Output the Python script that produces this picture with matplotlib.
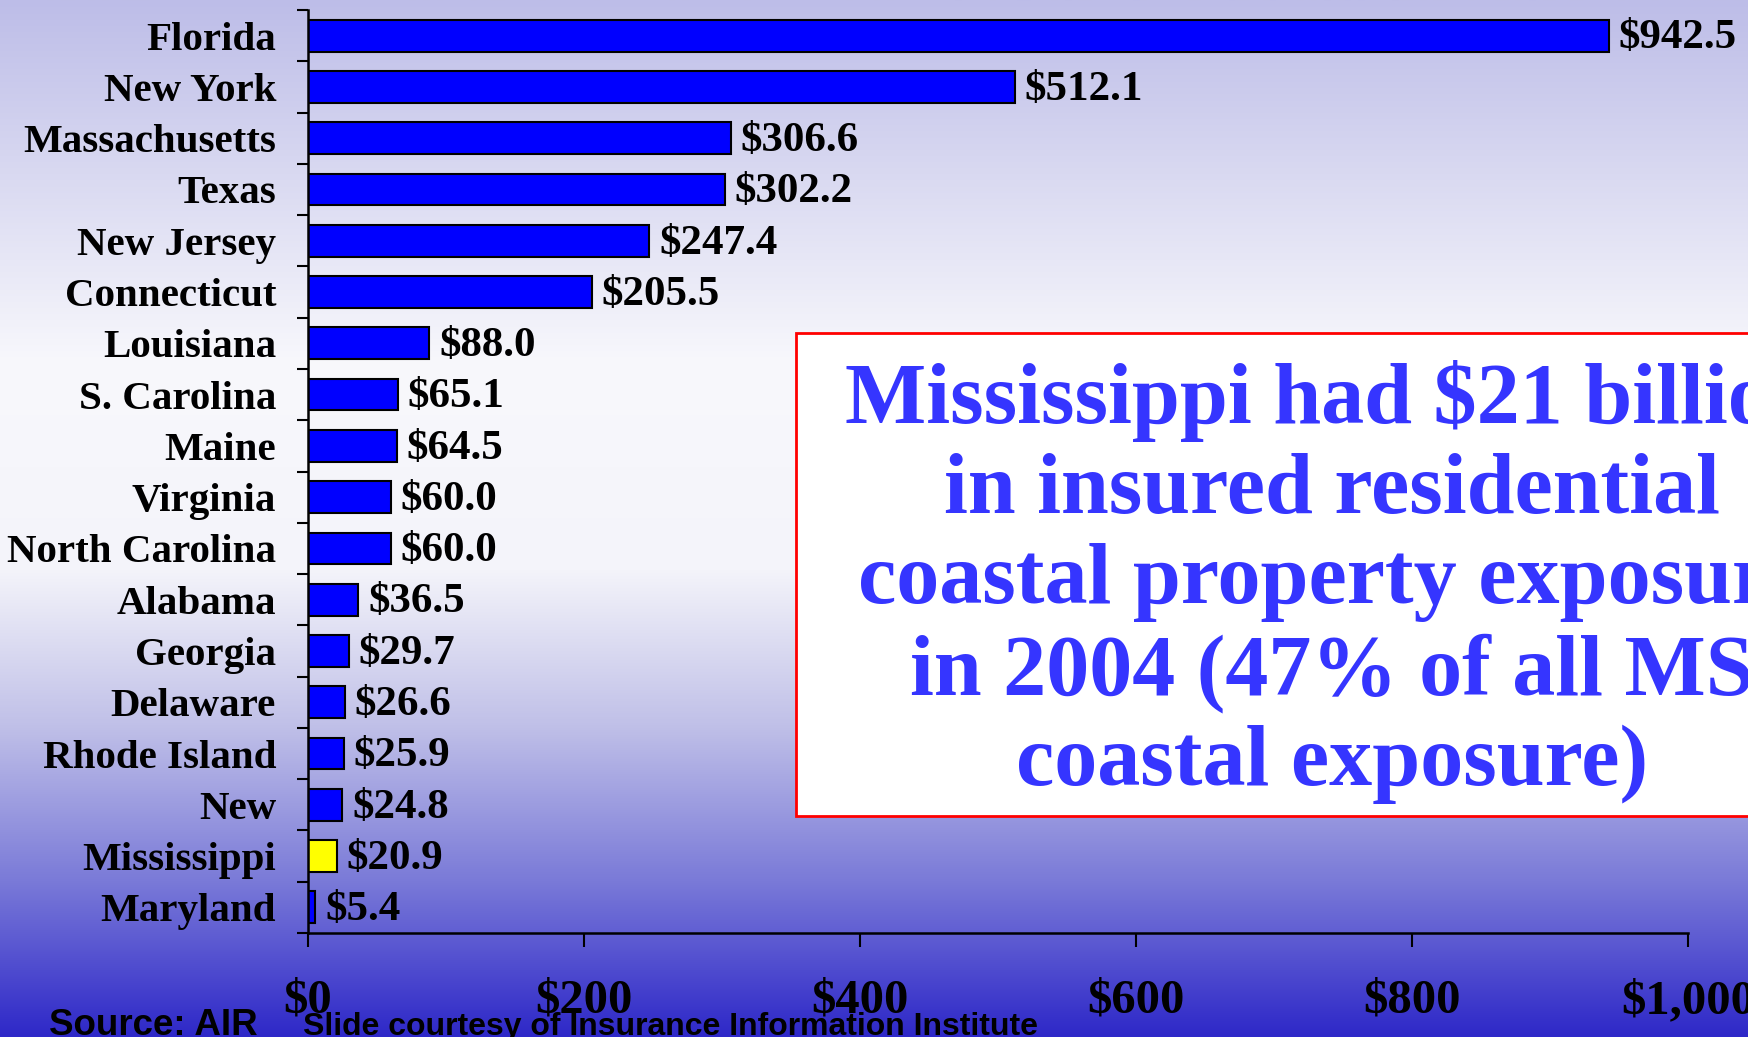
"""
Insured coastal residential exposure by state, 2004 ($ billions).
Horizontal bar chart on a slide-style gradient background with a callout box.
"""
import numpy as np
import matplotlib
matplotlib.use("Agg")
import matplotlib.pyplot as plt
from matplotlib.patches import Rectangle

# ---------- data ----------
states = ["Florida", "New York", "Massachusetts", "Texas", "New Jersey",
          "Connecticut", "Louisiana", "S. Carolina", "Maine", "Virginia",
          "North Carolina", "Alabama", "Georgia", "Delaware", "Rhode Island",
          "New", "Mississippi", "Maryland"]
exposure = [942.5, 512.1, 306.6, 302.2, 247.4, 205.5, 88.0, 65.1, 64.5, 60.0,
            60.0, 36.5, 29.7, 26.6, 25.9, 24.8, 20.9, 5.4]
highlight = "Mississippi"
xticks = [0, 200, 400, 600, 800, 1000]
xtick_labels = ["$0", "$200", "$400", "$600", "$800", "$1,000"]
callout = ("Mississippi had $21 billion\nin insured residential\n"
           "coastal property exposure\nin 2004 (47% of all MS\n"
           "coastal exposure)")

SERIF = ["Liberation Serif", "DejaVu Serif"]
SANS = ["Liberation Sans", "DejaVu Sans"]
BLUE = "#0000ff"; YELLOW = "#ffff00"; TXTBLUE = "#3535ff"

W, H = 1748, 1037
fig = plt.figure(figsize=(W / 100, H / 100), dpi=100)

# ---------- background gradient (light lavender -> white -> blue) ----------
stops = [(0.00, (189, 189, 232)), (0.15, (214, 214, 240)), (0.35, (248, 248, 252)),
         (0.55, (244, 244, 250)), (0.70, (192, 192, 232)), (0.85, (122, 122, 216)),
         (1.00, (46, 40, 200))]
yy = np.linspace(0, 1, 512)
col = np.stack([np.interp(yy, [s[0] for s in stops], [s[1][k] for s in stops])
                for k in range(3)], axis=1) / 255.0
bg = fig.add_axes([0, 0, 1, 1], zorder=-10)
bg.imshow(col[:, None, :], aspect="auto", extent=[0, 1, 0, 1])
bg.set_axis_off()

# ---------- bars ----------
ax = fig.add_axes([308 / W, 1 - 933 / H, 1380 / W, 923 / H])
ax.set_facecolor("none")
n = len(states)
y = np.arange(n)
colors = [YELLOW if s == highlight else BLUE for s in states]
ax.barh(y, exposure, height=0.62, color=colors, edgecolor="black", linewidth=1.5)
ax.set_ylim(n - 0.5, -0.5)
ax.set_xlim(0, 1000)

for yi, v in zip(y, exposure):
    ax.annotate(f"${v:.1f}", (v, yi), xytext=(7, -2), textcoords="offset points",
                va="center", ha="left", fontsize=31, fontweight="bold",
                family=SERIF, color="black")

ax.set_yticks(y)
ax.set_yticklabels(states, family=SERIF, fontsize=29.5, fontweight="bold")
ax.set_yticks(np.arange(-0.5, n), minor=True)
ax.tick_params(axis="y", which="major", length=0, pad=23)
ax.tick_params(axis="y", which="minor", length=8, width=1.5, direction="out")
ax.set_xticks(xticks)
ax.set_xticklabels(xtick_labels, family=SERIF, fontsize=35, fontweight="bold")
ax.tick_params(axis="x", length=10, width=1.5, direction="out", pad=23)
for s in ("top", "right"):
    ax.spines[s].set_visible(False)
for s in ("left", "bottom"):
    ax.spines[s].set_linewidth(1.8)

# ---------- callout box ----------
fig.patches.append(Rectangle((796 / W, 1 - 816 / H), 1100 / W, 483 / H,
                             transform=fig.transFigure, facecolor="white",
                             edgecolor="red", linewidth=2, zorder=5))
fig.text(1332 / W, 1 - 582 / H, callout, ha="center", va="center",
         multialignment="center", fontsize=62, fontweight="bold",
         family=SERIF, color=TXTBLUE, linespacing=1.19, zorder=6)

# ---------- footer ----------
fig.text(49 / W, 1 - 1035 / H, "Source: AIR", family=SANS, fontsize=26.5,
         fontweight="bold", va="baseline", ha="left")
fig.text(303 / W, 1 - 1035 / H, "Slide courtesy of Insurance Information Institute",
         family=SANS, fontsize=23, fontweight="bold", va="baseline", ha="left")

fig.savefig("out.png", dpi=100)
